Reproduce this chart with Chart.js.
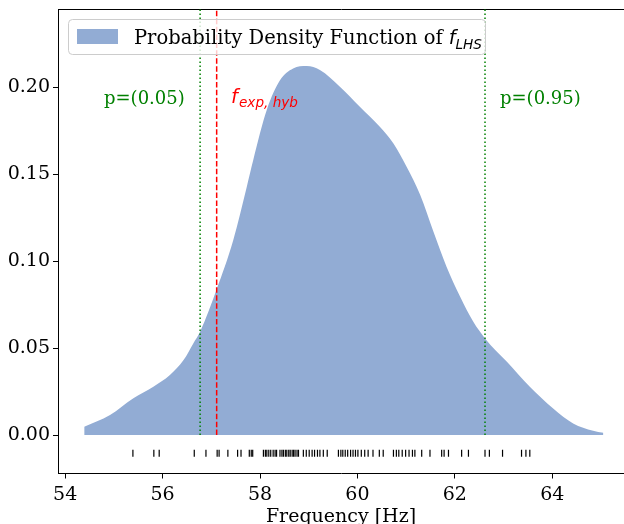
<!DOCTYPE html>
<html>
<head>
<meta charset="utf-8">
<script src="https://cdn.jsdelivr.net/npm/chart.js@4"></script>
<style>
  html, body { margin: 0; padding: 0; background: #fff; overflow: hidden; }
  canvas { display: block; }
</style>
</head>
<body>
<canvas id="myChart" width="624" height="524"></canvas>
<script>
// density curve
const freqHz = [54.39, 54.92, 55.40, 55.81, 56.15, 56.43, 56.63, 56.77, 57.11, 57.45, 57.73, 57.86,
  58.14, 58.41, 58.68, 58.96, 59.23, 59.64, 60.05, 60.46, 60.74, 61.01, 61.29, 61.56, 61.83,
  62.11, 62.38, 62.62, 63.07, 63.54, 64.02, 64.43, 64.84, 65.05];
const density = [0.0048, 0.0115, 0.0211, 0.0278, 0.0345, 0.0431, 0.0527, 0.0594, 0.0838, 0.112, 0.143, 0.158,
  0.187, 0.204, 0.2108, 0.2122, 0.2099, 0.2003, 0.1888, 0.1773, 0.1677, 0.1543, 0.138, 0.117, 0.0968,
  0.0795, 0.0651, 0.0556, 0.0421, 0.0278, 0.0153, 0.0067, 0.0025, 0.0013];

// LHS samples (rug)
const rugFreq = [55.39, 55.82, 55.93, 56.65, 56.89, 57.12, 57.16, 57.34, 57.54, 57.61, 57.78, 57.82, 57.85,
  58.07, 58.11, 58.14, 58.18, 58.22, 58.27, 58.31, 58.34, 58.41, 58.45, 58.48, 58.52, 58.55, 58.59,
  58.62, 58.66, 58.69, 58.72, 58.76, 58.79, 58.89, 58.95, 59.01, 59.07, 59.12, 59.18, 59.23, 59.30, 59.38,
  59.61, 59.66, 59.70, 59.75, 59.80, 59.86, 59.91, 59.96, 60.01, 60.08, 60.15, 60.22, 60.32, 60.45, 60.53,
  60.74, 60.80, 60.85, 60.92, 60.99, 61.06, 61.13, 61.18, 61.32, 61.49, 61.73, 61.78, 61.87, 62.14, 62.28,
  62.62, 62.71, 62.98, 63.37, 63.46, 63.54];

const p05 = 56.77;
const p95 = 62.62;
const fExpHyb = 57.11;

const xTicks = [54, 56, 58, 60, 62, 64];
const yTicks = [0, 0.05, 0.10, 0.15, 0.20];

const X_MIN = 53.852, X_MAX = 65.474;
const Y_MIN = -0.0221, Y_MAX = 0.245;
const RUG_Y = -0.0104;
const FILL = "rgb(146,172,212)";
const SERIF = "'DejaVu Serif'";

function vline(x, color, dash) {
  return {
    type: "line",
    data: [{x: x, y: 0}, {x: x, y: Y_MAX}],
    borderColor: color,
    borderWidth: 1.5,
    borderDash: dash,
    pointRadius: 0,
    fill: false
  };
}

function noPad(s) {
  s.paddingTop = 0; s.paddingBottom = 0; s.paddingLeft = 0; s.paddingRight = 0;
}

// legend box + text annotations (math subscripts drawn by hand)
const annotations = {
  id: "annotations",
  afterDraw(chart) {
    const ctx = chart.ctx;
    ctx.save();
    // legend
    ctx.beginPath();
    ctx.roundRect(68.5, 19.5, 417, 35, 4);
    ctx.fillStyle = "rgba(255,255,255,0.8)";
    ctx.fill();
    ctx.strokeStyle = "#cccccc";
    ctx.lineWidth = 1;
    ctx.stroke();
    ctx.fillStyle = FILL;
    ctx.fillRect(77, 29, 41, 15);
    ctx.fillStyle = "#000";
    ctx.textBaseline = "alphabetic";
    ctx.font = "19.5px " + SERIF;
    const label = "Probability Density Function of";
    ctx.fillText(label, 134, 44);
    let fx = 134 + ctx.measureText(label).width + 6;
    ctx.font = "italic 19.5px 'DejaVu Sans'";
    ctx.fillText("f", fx, 44);
    fx += ctx.measureText("f").width;
    ctx.font = "italic 13.6px 'DejaVu Sans'";
    ctx.fillText("LHS", fx, 48.5);

    // percentile labels
    ctx.fillStyle = "#008000";
    ctx.font = "18px " + SERIF;
    ctx.fillText("p=(0.05)", 104, 104);
    ctx.fillText("p=(0.95)", 500, 104);

    // experimental value label
    ctx.fillStyle = "#ff0000";
    ctx.font = "italic 19.5px 'DejaVu Sans'";
    ctx.fillText("f", 231, 103);
    ctx.font = "italic 13.6px 'DejaVu Sans'";
    ctx.fillText("exp, hyb", 239, 106.5);
    ctx.restore();
  }
};

const ctx = document.getElementById("myChart").getContext("2d");

new Chart(ctx, {
  data: {
    datasets: [
      vline(fExpHyb, "#ff0000", [5.5, 2.4]),
      vline(p05, "#008000", [1.5, 2.5]),
      vline(p95, "#008000", [1.5, 2.5]),
      {
        type: "scatter",
        data: rugFreq.map(v => ({x: v, y: RUG_Y})),
        pointStyle: "line",
        rotation: 90,
        radius: 3.5,
        borderWidth: 1.2,
        borderColor: "#000",
        backgroundColor: "#000"
      },
      {
        type: "line",
        data: freqHz.map((f, i) => ({x: f, y: density[i]})),
        borderWidth: 0,
        borderColor: FILL,
        backgroundColor: FILL,
        pointRadius: 0,
        fill: "origin",
        cubicInterpolationMode: "monotone"
      }
    ]
  },
  options: {
    responsive: false,
    animation: false,
    layout: {autoPadding: false, padding: {top: 9, left: 0, right: 0, bottom: 0}},
    plugins: {legend: {display: false}, tooltip: {enabled: false}},
    scales: {
      x: {
        type: "linear",
        position: "bottom",
        min: X_MIN,
        max: X_MAX,
        afterBuildTicks: s => { s.ticks = xTicks.map(v => ({value: v})); },
        afterFit: s => { s.height = 50.5; noPad(s); },
        ticks: {color: "#000", font: {family: SERIF, size: 19}, padding: 5, maxRotation: 0},
        grid: {display: true, drawOnChartArea: false, drawTicks: true, tickLength: 5, color: "#000"},
        border: {display: true, color: "#000", width: 1},
        title: {display: true, text: "Frequency [Hz]", color: "#000",
          font: {family: SERIF, size: 19, lineHeight: 1}, padding: {top: 0, bottom: -3}}
      },
      xTop: {
        type: "linear",
        position: "top",
        min: X_MIN,
        max: X_MAX,
        afterFit: s => { s.height = 0; noPad(s); },
        ticks: {display: false},
        grid: {display: false},
        border: {display: true, color: "#000", width: 1}
      },
      y: {
        type: "linear",
        min: Y_MIN,
        max: Y_MAX,
        afterBuildTicks: s => { s.ticks = yTicks.map(v => ({value: v})); },
        afterFit: s => { s.width = 58; noPad(s); },
        ticks: {color: "#000", font: {family: SERIF, size: 19}, padding: 3,
          callback: v => v.toFixed(2)},
        grid: {display: true, drawOnChartArea: false, drawTicks: true, tickLength: 5, color: "#000"},
        border: {display: true, color: "#000", width: 1}
      }
    }
  },
  plugins: [annotations]
});
</script>
</body>
</html>
